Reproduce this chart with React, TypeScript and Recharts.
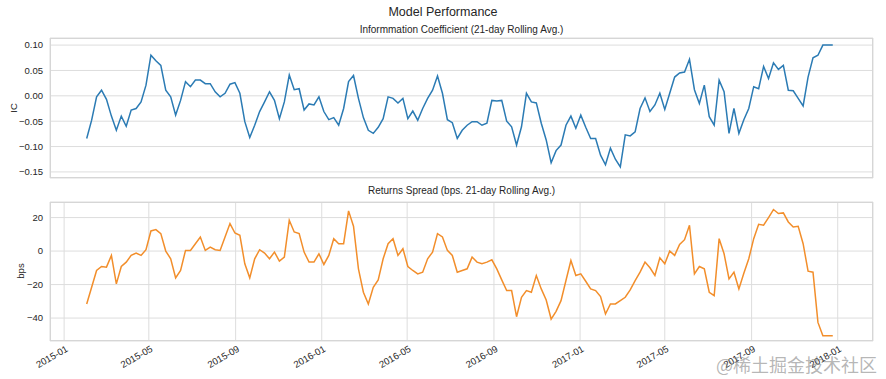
import React from "react";
import { LineChart, Line, XAxis, YAxis, CartesianGrid } from "recharts";

// weekly samples starting 2015-02-02
const START = Date.UTC(2015, 1, 2);
const WEEK = 7 * 24 * 3600 * 1000;

const IC_VALUES = [
  -0.084, -0.048, -0.002, 0.011, -0.007, -0.04, -0.068, -0.04, -0.06, -0.028,
  -0.025, -0.012, 0.021, 0.08, 0.069, 0.06, 0.011, -0.002, -0.038, -0.009,
  0.028, 0.018, 0.031, 0.031, 0.024, 0.024, 0.008, -0.002, 0.005, 0.023,
  0.026, 0.005, -0.051, -0.082, -0.058, -0.031, -0.012, 0.008, -0.009, -0.045,
  -0.012, 0.041, 0.012, 0.014, -0.028, -0.016, -0.018, -0.002, -0.031, -0.047,
  -0.043, -0.058, -0.025, 0.028, 0.04, -0.005, -0.043, -0.068, -0.074, -0.062,
  -0.045, -0.002, -0.005, -0.014, -0.005, -0.045, -0.03, -0.048, -0.025, -0.005,
  0.011, 0.039, 0.005, -0.047, -0.053, -0.084, -0.068, -0.058, -0.051, -0.051,
  -0.058, -0.054, -0.009, -0.01, -0.009, -0.05, -0.061, -0.097, -0.061, 0.005,
  -0.012, -0.014, -0.054, -0.087, -0.132, -0.108, -0.097, -0.058, -0.04, -0.064,
  -0.038, -0.062, -0.084, -0.084, -0.117, -0.136, -0.103, -0.125, -0.14, -0.077,
  -0.079, -0.071, -0.025, -0.004, -0.031, -0.018, 0.005, -0.027, 0.005, 0.037,
  0.045, 0.047, 0.072, 0.012, -0.015, 0.021, -0.041, -0.058, 0.031, 0.008,
  -0.074, -0.025, -0.074, -0.047, -0.025, 0.018, 0.014, 0.058, 0.034, 0.065,
  0.052, 0.06, 0.011, 0.01, -0.005, -0.02, 0.037, 0.075, 0.08, 0.1,
  0.1, 0.1,
];

const SPREAD_VALUES = [
  -31.6, -21.6, -11.6, -9.2, -9.6, -2.6, -19.6, -9.2, -6.6, -2.6,
  -1.2, -2.6, 0.8, 12, 12.8, 10.4, 0, -4.6, -16, -11.6,
  0.4, 0.4, 4.4, 8.4, 0.4, 2.4, 0.8, 0.4, 8.4, 16.4,
  10.8, 9.4, -7.6, -16, -4.6, 0.8, -1.2, -4.6, -0.6, -6,
  -3.6, 18.4, 11.4, 10.4, -0.6, -6.6, -6.6, -1.6, -8, -2.6,
  7.4, 4.4, 4.4, 24, 14.8, -10.6, -24.6, -31.6, -21.6, -17.2,
  -4.6, 4.4, 7.4, -2.6, 1.4, -9.2, -11.6, -13.6, -12.6, -4.6,
  -0.6, 10.4, 8.4, 0.4, -2.6, -12.6, -11.6, -10.6, -3.6, -6.6,
  -7.6, -6.6, -5.2, -10.6, -17.2, -23.6, -23.6, -39.2, -27.6, -23.6,
  -24.6, -14.6, -22.6, -29.2, -40.6, -36, -29.6, -17.6, -5.6, -14.6,
  -13.6, -18, -22.6, -23.6, -27.2, -37.6, -31.6, -31.6, -29.6, -27.6,
  -23.2, -17.6, -12.6, -6.6, -10, -14.6, -4, -7.6, 0, -2.6,
  4, 6.8, 15.4, -13.6, -9.2, -10.6, -24.6, -26.6, 7.4, -1.6,
  -16.6, -12.6, -22.6, -13.2, -4.6, 7.4, 16, 15.4, 20, 24.8,
  22.4, 22.8, 17.4, 14.4, 14.8, 4.4, -12, -12.6, -42.6, -50.6,
  -50.6, -50.6,
];

const X_TICKS = [
  Date.UTC(2015, 0, 1), Date.UTC(2015, 4, 1), Date.UTC(2015, 8, 1),
  Date.UTC(2016, 0, 1), Date.UTC(2016, 4, 1), Date.UTC(2016, 8, 1),
  Date.UTC(2017, 0, 1), Date.UTC(2017, 4, 1), Date.UTC(2017, 8, 1),
  Date.UTC(2018, 0, 1),
];
const X_DOMAIN = [Date.UTC(2014, 11, 12), Date.UTC(2018, 1, 20)];

const IC_TICKS = [0.1, 0.05, 0, -0.05, -0.1, -0.15];
const SPREAD_TICKS = [20, 0, -20, -40];

const data = IC_VALUES.map((ic, i) => ({
  t: START + i * WEEK,
  ic,
  spread: SPREAD_VALUES[i],
}));

const FONT = "'Liberation Sans', Arial, sans-serif";
const TEXT = "#262626";
const GRID = "#dddddd";

const fmtDate = (v: number) => {
  const d = new Date(v);
  return `${d.getUTCFullYear()}-${String(d.getUTCMonth() + 1).padStart(2, "0")}`;
};
const minus = (s: string) => s.replace("-", "\u2212");

const DateTick = ({ x, y, payload }: any) => (
  <g transform={`translate(${x},${y})`}>
    <text
      x={0}
      y={0}
      dy={9}
      textAnchor="end"
      transform="rotate(-30)"
      fill={TEXT}
      fontSize={9.5}
      fontFamily={FONT}
    >
      {fmtDate(payload.value)}
    </text>
  </g>
);

const Frame = ({ top, height }: { top: number; height: number }) => (
  <div
    style={{
      position: "absolute",
      left: 50,
      top,
      width: 823,
      height,
      border: "1px solid #d6d6d6",
      boxSizing: "border-box",
      pointerEvents: "none",
    }}
  />
);

export default function App() {
  return (
    <div
      style={{
        position: "fixed",
        left: 0,
        top: 0,
        width: 886,
        height: 379,
        background: "#fff",
        fontFamily: FONT,
        color: TEXT,
      }}
    >
      <div style={{ position: "absolute", left: 0, width: 886, top: 5, textAlign: "center", fontSize: 12.5 }}>
        Model Performance
      </div>
      <div style={{ position: "absolute", left: 50, width: 823, top: 24, textAlign: "center", fontSize: 10 }}>
        Informmation Coefficient (21-day Rolling Avg.)
      </div>
      <div style={{ position: "absolute", left: 50, width: 823, top: 185, textAlign: "center", fontSize: 10 }}>
        Returns Spread (bps. 21-day Rolling Avg.)
      </div>
      <div
        style={{
          position: "absolute",
          left: 13,
          top: 108,
          fontSize: 9.5,
          transform: "translate(-50%,-50%) rotate(-90deg)",
        }}
      >
        IC
      </div>
      <div
        style={{
          position: "absolute",
          left: 20,
          top: 271,
          fontSize: 9.5,
          transform: "translate(-50%,-50%) rotate(-90deg)",
        }}
      >
        bps
      </div>

      <div style={{ position: "absolute", left: 0, top: 0 }}>
        <LineChart width={886} height={180} data={data} margin={{ top: 38, right: 13, bottom: 2, left: 10 }}>
          <CartesianGrid stroke={GRID} strokeWidth={1} />
          <XAxis
            dataKey="t"
            type="number"
            scale="time"
            domain={X_DOMAIN}
            ticks={X_TICKS}
            tick={false}
            tickLine={false}
            axisLine={false}
            height={0}
          />
          <YAxis
            type="number"
            domain={[-0.162, 0.114]}
            ticks={IC_TICKS}
            width={40}
            tickSize={0}
            tickMargin={7}
            axisLine={false}
            tickLine={false}
            tickFormatter={(v: number) => minus(v.toFixed(2))}
            tick={{ fill: TEXT, fontSize: 9.5, fontFamily: FONT }}
          />
          <Line
            dataKey="ic"
            type="linear"
            stroke="#2b7bb4"
            strokeWidth={1.5}
            dot={false}
            isAnimationActive={false}
          />
        </LineChart>
      </div>
      <Frame top={38} height={140} />

      <div style={{ position: "absolute", left: 0, top: 190 }}>
        <LineChart width={886} height={189} data={data} margin={{ top: 12, right: 13, bottom: 8, left: 10 }}>
          <CartesianGrid stroke={GRID} strokeWidth={1} />
          <XAxis
            dataKey="t"
            type="number"
            scale="time"
            domain={X_DOMAIN}
            ticks={X_TICKS}
            tick={<DateTick />}
            tickLine={false}
            axisLine={false}
            tickSize={0}
            height={30}
            interval={0}
          />
          <YAxis
            type="number"
            domain={[-53.7, 29.3]}
            ticks={SPREAD_TICKS}
            width={40}
            tickSize={0}
            tickMargin={7}
            axisLine={false}
            tickLine={false}
            tickFormatter={(v: number) => minus(String(v))}
            tick={{ fill: TEXT, fontSize: 9.5, fontFamily: FONT }}
          />
          <Line
            dataKey="spread"
            type="linear"
            stroke="#f28e2b"
            strokeWidth={1.5}
            dot={false}
            isAnimationActive={false}
          />
        </LineChart>
      </div>
      <Frame top={202} height={139} />

      <div
        style={{
          position: "absolute",
          left: 716,
          top: 351,
          fontSize: 18,
          color: "rgba(120,120,120,0.55)",
          fontFamily: "'Noto Sans CJK SC', sans-serif",
          whiteSpace: "nowrap",
        }}
      >
        @稀土掘金技术社区
      </div>
    </div>
  );
}
